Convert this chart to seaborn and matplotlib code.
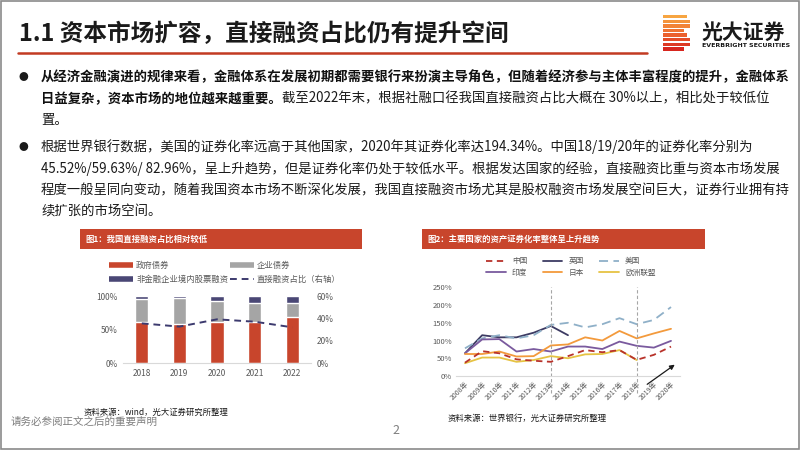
import numpy as np
import pandas as pd
import seaborn as sns
import matplotlib.pyplot as plt
from matplotlib.patches import Rectangle
from matplotlib.lines import Line2D

# 图1 数据
years_left = ['2018', '2019', '2020', '2021', '2022']
gov_bond = [62, 58, 62, 61, 69]
corp_bond = [33.5, 38.5, 31, 29, 20]
equity = [4.5, 3.5, 7, 10, 11]
direct_ratio = [35.6, 32.7, 39.2, 37.1, 32.1]

# 图2 数据
years_right = ['2008年', '2009年', '2010年', '2011年', '2012年', '2013年', '2014年',
               '2015年', '2016年', '2017年', '2018年', '2019年', '2020年']
china = [37.6, 70, 64, 47, 43, 40, 56, 73, 67, 73, 45.52, 59.63, 82.96]
uk = [64, 115, 109, 109, 122, 141, 115, np.nan, np.nan, np.nan, np.nan, np.nan, np.nan]
usa = [78, 106, 115, 106, 115, 144, 150, 137, 146, 163, 146, 158, 194.34]
india = [64, 103, 104, 69, 76, 69, 83, 83, 76, 97, 85, 80, 99]
japan = [62, 62, 69, 55, 56, 86, 89, 109, 100, 127, 106, 120, 133]
eu = [36, 52, 52, 40, 45, 56, 50, 61, 62, 73, 45, np.nan, np.nan]

W, H = 802, 451


def fx(x):
    return x / W


def fy(y):
    return 1 - y / H


sns.set_theme(style='white')
plt.rcParams['font.family'] = ['Noto Sans CJK SC', 'DejaVu Sans']

fig = plt.figure(figsize=(8.02, 4.51), dpi=100)
fig.patch.set_facecolor('white')

RED = '#C8452C'
GREY_TXT = '#595959'

# 边框
fig.add_artist(Rectangle((fx(1), fy(449)), fx(799) - fx(1), fy(1) - fy(449),
                         transform=fig.transFigure, fill=False, ec='#8a8a8a', lw=1.2))

# 标题
fig.text(fx(19), fy(34), '1.1 资本市场扩容，直接融资占比仍有提升空间',
         fontsize=17, weight='bold', va='center', color='#1a1a1a')
fig.add_artist(Line2D([fx(18), fx(647)], [fy(53), fy(53)], transform=fig.transFigure,
                      lw=1.8, color='#C23B22'))

# logo
stripe_w = [24, 27, 27, 21, 24, 27, 27, 21]
stripe_c = sns.blend_palette(['#F7A541', '#EE6A2F', '#D7261E'], 8)
for i, (w, c) in enumerate(zip(stripe_w, stripe_c)):
    y0 = 15 + i * 4.6
    fig.add_artist(Rectangle((fx(663), fy(y0 + 3.4)), fx(w), 3.4 / H,
                             transform=fig.transFigure, color=c, lw=0))
fig.text(fx(702), fy(32), '光大证券', fontsize=15, weight='bold', va='center', color='#1a1a1a')
fig.text(fx(702), fy(45.5), 'EVERBRIGHT SECURITIES', fontsize=4.5, weight='bold',
         va='center', color='#1a1a1a', family='DejaVu Sans')

# 正文
BODY = 9.6
renderer = fig.canvas.get_renderer()
fig.text(fx(23), fy(77), '●', fontsize=7, va='center', ha='center', color='#1a1a1a')
fig.text(fx(41), fy(77), '从经济金融演进的规律来看，金融体系在发展初期都需要银行来扮演主导角色，但随着经济参与主体丰富程度的提升，金融体系',
         fontsize=BODY, weight='bold', va='center', color='#111111')
t_bold = fig.text(fx(41), fy(98.7), '日益复杂，资本市场的地位越来越重要。',
                  fontsize=BODY, weight='bold', va='center', color='#111111')
bb = t_bold.get_window_extent(renderer=renderer)
fig.text(bb.x1 / fig.bbox.width, fy(98.7), '截至2022年末，根据社融口径我国直接融资占比大概在 30%以上，相比处于较低位',
         fontsize=BODY, va='center', color='#1a1a1a')
fig.text(fx(41), fy(120.4), '置。', fontsize=BODY, va='center', color='#1a1a1a')

fig.text(fx(23), fy(146.7), '●', fontsize=7, va='center', ha='center', color='#1a1a1a')
body2 = ['根据世界银行数据，美国的证券化率远高于其他国家，2020年其证券化率达194.34%。中国18/19/20年的证券化率分别为',
         '45.52%/59.63%/ 82.96%，呈上升趋势，但是证券化率仍处于较低水平。根据发达国家的经验，直接融资比重与资本市场发展',
         '程度一般呈同向变动，随着我国资本市场不断深化发展，我国直接融资市场尤其是股权融资市场发展空间巨大，证券行业拥有持',
         '续扩张的市场空间。']
for k, line in enumerate(body2):
    fig.text(fx(41), fy(146.7 + k * 21.7), line, fontsize=BODY, va='center', color='#1a1a1a')

# 图表标题条
for (x0, x1, label) in [(80, 362, '图1：我国直接融资占比相对较低'),
                        (422, 705, '图2：主要国家的资产证券化率整体呈上升趋势')]:
    fig.add_artist(Rectangle((fx(x0), fy(249)), fx(x1 - x0), 20 / H,
                             transform=fig.transFigure, color=RED, lw=0))
    fig.text(fx(x0 + 5), fy(239), label, fontsize=6, weight='bold', color='white', va='center')

# ---- 图1 ----
ax1 = fig.add_axes([fx(123), fy(363.3), fx(311 - 123), 67.3 / H])
cum2 = [g + c for g, c in zip(gov_bond, corp_bond)]
cum3 = [a + e for a, e in zip(cum2, equity)]
NAVY = '#4A4775'
sns.barplot(x=years_left, y=cum3, color=NAVY, width=0.35, saturation=1, errorbar=None, ax=ax1)
sns.barplot(x=years_left, y=cum2, color='#A5A5A5', width=0.35, saturation=1, errorbar=None, ax=ax1)
sns.barplot(x=years_left, y=gov_bond, color=RED, width=0.35, saturation=1, errorbar=None, ax=ax1)
ax1.set_ylim(0, 100)
ax1.set_xlim(-0.5, 4.5)
ax1.set_yticks([0, 50, 100])
ax1.set_yticklabels(['0%', '50%', '100%'])
ax1.set_xlabel('')
ax1.set_ylabel('')
ax1.tick_params(axis='both', length=0, labelsize=6, colors=GREY_TXT, pad=4)
for s in ['top', 'left', 'right']:
    ax1.spines[s].set_visible(False)
ax1.spines['bottom'].set_color('#D9D9D9')
ax1.spines['bottom'].set_linewidth(0.8)

ax1r = ax1.twinx()
sns.lineplot(x=np.arange(len(years_left)), y=direct_ratio, color='#3C3A6E', lw=1.4, ax=ax1r)
ax1r.lines[-1].set_linestyle((0, (3.5, 2.5)))
ax1r.set_ylim(0, 60)
ax1r.set_yticks([0, 20, 40, 60])
ax1r.set_yticklabels(['0%', '20%', '40%', '60%'])
ax1r.tick_params(axis='y', length=0, labelsize=6, colors=GREY_TXT, pad=4)
for s in ax1r.spines.values():
    s.set_visible(False)

h1 = [Line2D([], [], color=RED, lw=4, solid_capstyle='butt'),
      Line2D([], [], color=NAVY, lw=4, solid_capstyle='butt'),
      Line2D([], [], color='#A5A5A5', lw=4, solid_capstyle='butt'),
      Line2D([], [], color='#3C3A6E', lw=1.4, ls=(0, (3.5, 2.5)))]
l1 = ['政府债券', '非金融企业境内股票融资', '企业债券', '直接融资占比（右轴）']
fig.legend(h1, l1, loc='center left', bbox_to_anchor=(fx(109), fy(272.5)), ncol=2,
           frameon=False, fontsize=6, labelcolor=GREY_TXT, borderpad=0, borderaxespad=0,
           handlelength=2.9, handletextpad=0.35, columnspacing=0.2, labelspacing=0.65)

fig.text(fx(84), fy(412), '资料来源：wind，光大证券研究所整理', fontsize=6, va='center', color='#1a1a1a')

# ---- 图2 ----
ax2 = fig.add_axes([fx(456.4), fy(376), fx(679.6 - 456.4), (376 - 287.3) / H])
xs = np.arange(len(years_right))
series = [
    ('中国', china, '#B8322A', (0, (3.5, 2.5))),
    ('英国', uk, '#3D3B63', '-'),
    ('美国', usa, '#8FB0C8', (0, (5, 3))),
    ('印度', india, '#7A5A9E', '-'),
    ('日本', japan, '#F39A3C', '-'),
    ('欧洲联盟', eu, '#E6C343', '-'),
]
handles2 = {}
for name, vals, col, ls in series:
    sns.lineplot(x=xs, y=vals, color=col, lw=1.3, ax=ax2)
    ln = ax2.lines[-1]
    ln.set_linestyle(ls)
    handles2[name] = Line2D([], [], color=col, lw=1.3, ls=ls)
# 中国置顶
ax2.lines[0].set_zorder(5)

for xv in [5, 10]:
    ax2.axvline(xv, ymin=-0.19, ymax=1.0, color='#A6A6A6', lw=0.8, ls=(0, (3, 2)), clip_on=False)

ax2.set_xlim(-0.5, 12.5)
ax2.set_ylim(0, 250)
ax2.set_yticks([0, 50, 100, 150, 200, 250])
ax2.set_yticklabels([f'{v}%' for v in [0, 50, 100, 150, 200, 250]])
ax2.set_xticks(xs)
ax2.set_xticklabels(years_right, rotation=45, ha='right', rotation_mode='anchor')
ax2.tick_params(axis='y', length=0, labelsize=5.5, colors=GREY_TXT, pad=3)
ax2.tick_params(axis='x', length=0, labelsize=5, colors=GREY_TXT, pad=3)
for s in ['top', 'left', 'right']:
    ax2.spines[s].set_visible(False)
ax2.spines['bottom'].set_color('#D9D9D9')
ax2.spines['bottom'].set_linewidth(0.8)

ax2.annotate('', xy=(12.35, 36.5), xytext=(10.48, -28), annotation_clip=False,
             arrowprops=dict(arrowstyle='-|>', color='#1a1a1a', lw=0.9, mutation_scale=7))

order2 = ['中国', '印度', '英国', '日本', '美国', '欧洲联盟']
fig.legend([handles2[n] for n in order2], order2, loc='center left',
           bbox_to_anchor=(fx(486), fy(267)), ncol=3, frameon=False, fontsize=5.5,
           labelcolor=GREY_TXT, borderpad=0, borderaxespad=0, handlelength=2.6,
           handletextpad=0.8, columnspacing=2.0, labelspacing=0.45)

fig.text(fx(448), fy(418), '资料来源：世界银行，光大证券研究所整理', fontsize=6, va='center', color='#1a1a1a')

# 页脚
fig.text(fx(11), fy(422), '请务必参阅正文之后的重要声明', fontsize=7.6, va='center', color='#7f7f7f')
fig.text(fx(396), fy(431), '2', fontsize=9, va='center', ha='center', color='#7f7f7f')

fig.savefig('out.png', dpi=100)
